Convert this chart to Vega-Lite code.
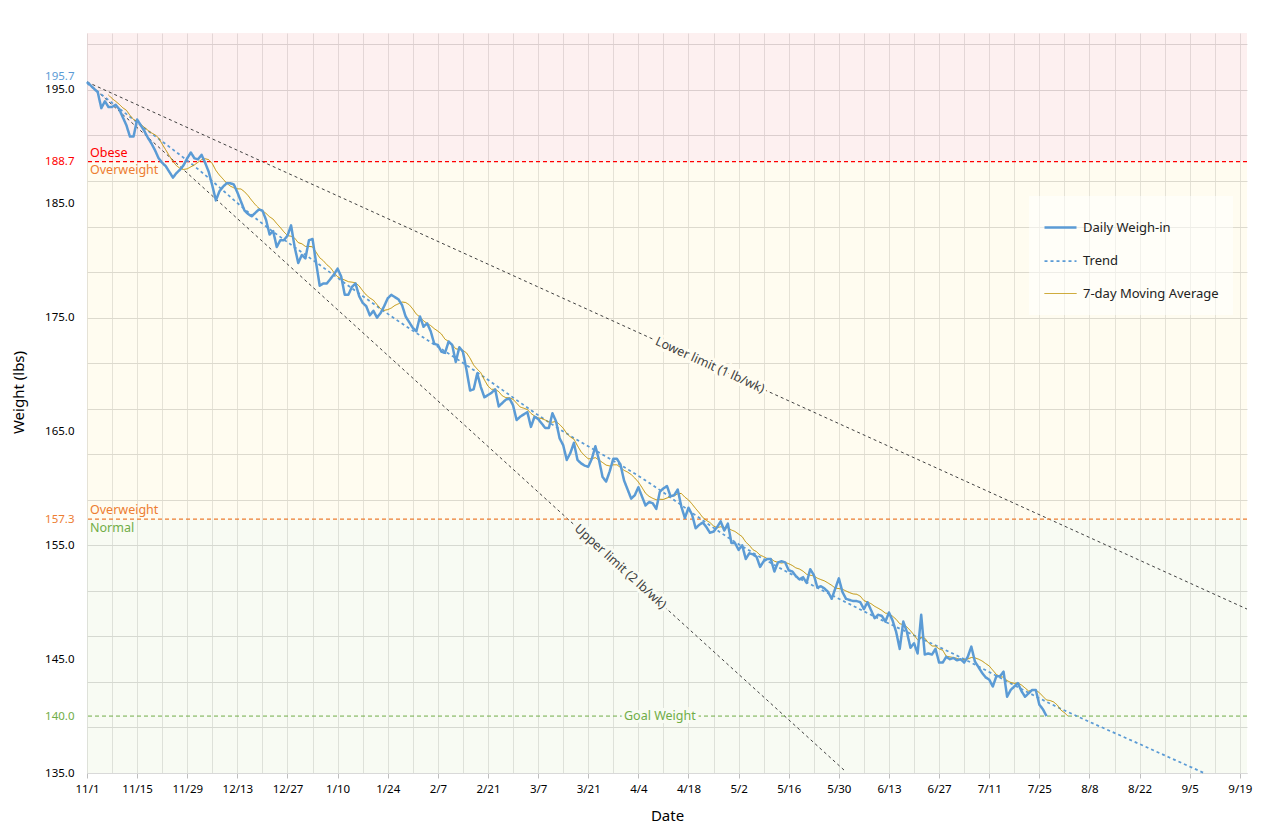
{
  "$schema": "https://vega.github.io/schema/vega-lite/v6.json",
  "description": "Weight loss tracker: daily weigh-ins with trend, 7-day moving average, BMI zones and 1-2 lb/wk limits",
  "width": 1160,
  "height": 740,
  "autosize": {"type": "none"},
  "padding": {"left": 87, "top": 33, "right": 23, "bottom": 64},
  "background": "#ffffff",
  "datasets": {
    "zones": [
      {"zone": "Obese", "lo": 188.7, "hi": 200},
      {"zone": "Overweight", "lo": 157.3, "hi": 188.7},
      {"zone": "Normal", "lo": 135, "hi": 157.3}
    ],
    "limits": [
      {"limit": "Lower limit (1 lb/wk)", "date": "2022-11-01", "weight": 195.7},
      {"limit": "Lower limit (1 lb/wk)", "date": "2023-09-21", "weight": 149.4},
      {"limit": "Upper limit (2 lb/wk)", "date": "2022-11-01", "weight": 195.7},
      {"limit": "Upper limit (2 lb/wk)", "date": "2023-06-01", "weight": 135.1}
    ],
    "trend": [
      {"date": "2022-11-01", "weight": 195.6},
      {"date": "2022-11-16", "weight": 191.9},
      {"date": "2022-12-01", "weight": 188.3},
      {"date": "2022-12-19", "weight": 183.5},
      {"date": "2023-01-06", "weight": 179.4},
      {"date": "2023-01-26", "weight": 174.9},
      {"date": "2023-02-17", "weight": 170.4},
      {"date": "2023-03-11", "weight": 165.6},
      {"date": "2023-04-05", "weight": 160.9},
      {"date": "2023-05-01", "weight": 155.3},
      {"date": "2023-06-06", "weight": 149.2},
      {"date": "2023-07-04", "weight": 145.0},
      {"date": "2023-07-28", "weight": 141.1},
      {"date": "2023-08-23", "weight": 137.4},
      {"date": "2023-09-09", "weight": 135.0}
    ],
    "daily": [
      {"date": "2022-11-01", "weight": 195.7}, {"date": "2022-11-02", "weight": 195.4}, {"date": "2022-11-03", "weight": 195.1},
      {"date": "2022-11-04", "weight": 194.8}, {"date": "2022-11-05", "weight": 193.4}, {"date": "2022-11-06", "weight": 194.0},
      {"date": "2022-11-07", "weight": 193.5}, {"date": "2022-11-08", "weight": 193.5}, {"date": "2022-11-09", "weight": 193.7},
      {"date": "2022-11-10", "weight": 193.3}, {"date": "2022-11-11", "weight": 192.6}, {"date": "2022-11-12", "weight": 191.9},
      {"date": "2022-11-13", "weight": 190.9}, {"date": "2022-11-14", "weight": 190.9}, {"date": "2022-11-15", "weight": 192.4},
      {"date": "2022-11-16", "weight": 191.9}, {"date": "2022-11-17", "weight": 191.4}, {"date": "2022-11-18", "weight": 190.8},
      {"date": "2022-11-19", "weight": 190.3}, {"date": "2022-11-20", "weight": 189.7}, {"date": "2022-11-21", "weight": 189.0},
      {"date": "2022-11-22", "weight": 188.6}, {"date": "2022-11-23", "weight": 188.3}, {"date": "2022-11-24", "weight": 187.8},
      {"date": "2022-11-25", "weight": 187.3}, {"date": "2022-11-26", "weight": 187.7}, {"date": "2022-11-27", "weight": 188.0},
      {"date": "2022-11-28", "weight": 188.4}, {"date": "2022-11-29", "weight": 189.0}, {"date": "2022-11-30", "weight": 189.5},
      {"date": "2022-12-01", "weight": 189.0}, {"date": "2022-12-02", "weight": 188.9}, {"date": "2022-12-03", "weight": 189.3},
      {"date": "2022-12-04", "weight": 188.6}, {"date": "2022-12-05", "weight": 187.8}, {"date": "2022-12-06", "weight": 186.6},
      {"date": "2022-12-07", "weight": 185.3}, {"date": "2022-12-08", "weight": 186.1}, {"date": "2022-12-09", "weight": 186.5},
      {"date": "2022-12-10", "weight": 186.8}, {"date": "2022-12-11", "weight": 186.8}, {"date": "2022-12-12", "weight": 186.7},
      {"date": "2022-12-13", "weight": 186.0}, {"date": "2022-12-14", "weight": 185.2}, {"date": "2022-12-15", "weight": 184.4},
      {"date": "2022-12-16", "weight": 184.1}, {"date": "2022-12-17", "weight": 183.9}, {"date": "2022-12-18", "weight": 184.2},
      {"date": "2022-12-19", "weight": 184.5}, {"date": "2022-12-20", "weight": 184.4}, {"date": "2022-12-21", "weight": 183.6},
      {"date": "2022-12-22", "weight": 182.3}, {"date": "2022-12-23", "weight": 182.6}, {"date": "2022-12-24", "weight": 181.2},
      {"date": "2022-12-25", "weight": 181.8}, {"date": "2022-12-26", "weight": 181.8}, {"date": "2022-12-27", "weight": 182.2},
      {"date": "2022-12-28", "weight": 183.1}, {"date": "2022-12-29", "weight": 181.2}, {"date": "2022-12-30", "weight": 179.8},
      {"date": "2022-12-31", "weight": 180.5},
      {"date": "2023-01-01", "weight": 180.2}, {"date": "2023-01-02", "weight": 181.8}, {"date": "2023-01-03", "weight": 181.9},
      {"date": "2023-01-04", "weight": 179.8}, {"date": "2023-01-05", "weight": 177.8}, {"date": "2023-01-06", "weight": 178.0},
      {"date": "2023-01-07", "weight": 178.0}, {"date": "2023-01-08", "weight": 178.4}, {"date": "2023-01-09", "weight": 178.8},
      {"date": "2023-01-10", "weight": 179.3}, {"date": "2023-01-11", "weight": 178.6}, {"date": "2023-01-12", "weight": 177.0},
      {"date": "2023-01-13", "weight": 177.0}, {"date": "2023-01-14", "weight": 177.7}, {"date": "2023-01-15", "weight": 178.0},
      {"date": "2023-01-16", "weight": 176.9}, {"date": "2023-01-17", "weight": 176.3}, {"date": "2023-01-18", "weight": 176.0},
      {"date": "2023-01-19", "weight": 175.2}, {"date": "2023-01-20", "weight": 175.6}, {"date": "2023-01-21", "weight": 175.0},
      {"date": "2023-01-22", "weight": 175.4}, {"date": "2023-01-23", "weight": 176.0}, {"date": "2023-01-24", "weight": 176.7},
      {"date": "2023-01-25", "weight": 177.0}, {"date": "2023-01-26", "weight": 176.8}, {"date": "2023-01-27", "weight": 176.6},
      {"date": "2023-01-28", "weight": 176.1}, {"date": "2023-01-29", "weight": 175.1}, {"date": "2023-01-30", "weight": 174.6},
      {"date": "2023-01-31", "weight": 174.1},
      {"date": "2023-02-01", "weight": 173.8}, {"date": "2023-02-02", "weight": 175.1}, {"date": "2023-02-03", "weight": 174.2},
      {"date": "2023-02-04", "weight": 174.5}, {"date": "2023-02-05", "weight": 173.8}, {"date": "2023-02-06", "weight": 172.7},
      {"date": "2023-02-07", "weight": 172.6}, {"date": "2023-02-08", "weight": 172.0}, {"date": "2023-02-09", "weight": 171.9},
      {"date": "2023-02-10", "weight": 172.9}, {"date": "2023-02-11", "weight": 172.6}, {"date": "2023-02-12", "weight": 171.1},
      {"date": "2023-02-13", "weight": 172.4}, {"date": "2023-02-14", "weight": 172.0}, {"date": "2023-02-15", "weight": 170.4},
      {"date": "2023-02-16", "weight": 168.6}, {"date": "2023-02-17", "weight": 168.7}, {"date": "2023-02-18", "weight": 170.1},
      {"date": "2023-02-19", "weight": 168.9}, {"date": "2023-02-20", "weight": 168.0}, {"date": "2023-02-21", "weight": 168.2},
      {"date": "2023-02-22", "weight": 168.4}, {"date": "2023-02-23", "weight": 168.7}, {"date": "2023-02-24", "weight": 167.2},
      {"date": "2023-02-25", "weight": 167.5}, {"date": "2023-02-26", "weight": 167.8}, {"date": "2023-02-27", "weight": 167.9},
      {"date": "2023-02-28", "weight": 167.3},
      {"date": "2023-03-01", "weight": 166.0}, {"date": "2023-03-02", "weight": 166.3}, {"date": "2023-03-03", "weight": 166.5},
      {"date": "2023-03-04", "weight": 166.7}, {"date": "2023-03-05", "weight": 165.4}, {"date": "2023-03-06", "weight": 166.3},
      {"date": "2023-03-07", "weight": 166.1}, {"date": "2023-03-08", "weight": 165.7}, {"date": "2023-03-09", "weight": 165.3},
      {"date": "2023-03-10", "weight": 165.3}, {"date": "2023-03-11", "weight": 166.6}, {"date": "2023-03-12", "weight": 165.9},
      {"date": "2023-03-13", "weight": 164.4}, {"date": "2023-03-14", "weight": 163.8}, {"date": "2023-03-15", "weight": 162.5},
      {"date": "2023-03-16", "weight": 163.1}, {"date": "2023-03-17", "weight": 164.0}, {"date": "2023-03-18", "weight": 162.5},
      {"date": "2023-03-19", "weight": 162.2}, {"date": "2023-03-20", "weight": 162.0}, {"date": "2023-03-21", "weight": 161.9},
      {"date": "2023-03-22", "weight": 162.6}, {"date": "2023-03-23", "weight": 163.7}, {"date": "2023-03-24", "weight": 162.5},
      {"date": "2023-03-25", "weight": 161.0}, {"date": "2023-03-26", "weight": 160.6}, {"date": "2023-03-27", "weight": 161.5},
      {"date": "2023-03-28", "weight": 162.6}, {"date": "2023-03-29", "weight": 162.6}, {"date": "2023-03-30", "weight": 162.1},
      {"date": "2023-03-31", "weight": 160.7},
      {"date": "2023-04-01", "weight": 159.9}, {"date": "2023-04-02", "weight": 159.1}, {"date": "2023-04-03", "weight": 159.4},
      {"date": "2023-04-04", "weight": 160.1}, {"date": "2023-04-05", "weight": 159.3}, {"date": "2023-04-06", "weight": 158.5},
      {"date": "2023-04-07", "weight": 158.8}, {"date": "2023-04-08", "weight": 158.7}, {"date": "2023-04-09", "weight": 158.2},
      {"date": "2023-04-10", "weight": 159.7}, {"date": "2023-04-11", "weight": 160.0}, {"date": "2023-04-12", "weight": 160.2},
      {"date": "2023-04-13", "weight": 159.3}, {"date": "2023-04-14", "weight": 159.4}, {"date": "2023-04-15", "weight": 159.9},
      {"date": "2023-04-16", "weight": 158.4}, {"date": "2023-04-17", "weight": 157.4}, {"date": "2023-04-18", "weight": 158.3},
      {"date": "2023-04-19", "weight": 157.7}, {"date": "2023-04-20", "weight": 156.5}, {"date": "2023-04-21", "weight": 156.8},
      {"date": "2023-04-22", "weight": 157.0}, {"date": "2023-04-23", "weight": 156.6}, {"date": "2023-04-24", "weight": 156.1},
      {"date": "2023-04-25", "weight": 156.2}, {"date": "2023-04-26", "weight": 156.6}, {"date": "2023-04-27", "weight": 157.1},
      {"date": "2023-04-28", "weight": 156.3}, {"date": "2023-04-29", "weight": 156.9}, {"date": "2023-04-30", "weight": 155.2},
      {"date": "2023-05-01", "weight": 155.2}, {"date": "2023-05-02", "weight": 154.6}, {"date": "2023-05-03", "weight": 155.0},
      {"date": "2023-05-04", "weight": 153.8}, {"date": "2023-05-05", "weight": 154.3}, {"date": "2023-05-06", "weight": 154.2},
      {"date": "2023-05-07", "weight": 154.0}, {"date": "2023-05-08", "weight": 153.1}, {"date": "2023-05-09", "weight": 153.6},
      {"date": "2023-05-10", "weight": 153.8}, {"date": "2023-05-11", "weight": 153.8}, {"date": "2023-05-12", "weight": 152.7},
      {"date": "2023-05-13", "weight": 153.5}, {"date": "2023-05-14", "weight": 153.6}, {"date": "2023-05-15", "weight": 153.5},
      {"date": "2023-05-16", "weight": 152.8}, {"date": "2023-05-17", "weight": 152.7}, {"date": "2023-05-18", "weight": 152.3},
      {"date": "2023-05-19", "weight": 152.0}, {"date": "2023-05-20", "weight": 152.2}, {"date": "2023-05-21", "weight": 151.7},
      {"date": "2023-05-22", "weight": 152.9}, {"date": "2023-05-23", "weight": 152.4}, {"date": "2023-05-24", "weight": 151.3},
      {"date": "2023-05-25", "weight": 151.4}, {"date": "2023-05-26", "weight": 151.2}, {"date": "2023-05-27", "weight": 150.9},
      {"date": "2023-05-28", "weight": 150.3}, {"date": "2023-05-29", "weight": 151.2}, {"date": "2023-05-30", "weight": 152.1},
      {"date": "2023-05-31", "weight": 150.9},
      {"date": "2023-06-01", "weight": 150.3}, {"date": "2023-06-02", "weight": 150.2}, {"date": "2023-06-03", "weight": 150.1},
      {"date": "2023-06-04", "weight": 150.1}, {"date": "2023-06-05", "weight": 150.0}, {"date": "2023-06-06", "weight": 149.4},
      {"date": "2023-06-07", "weight": 150.0}, {"date": "2023-06-08", "weight": 149.3}, {"date": "2023-06-09", "weight": 148.6},
      {"date": "2023-06-10", "weight": 148.9}, {"date": "2023-06-11", "weight": 148.8}, {"date": "2023-06-12", "weight": 148.3},
      {"date": "2023-06-13", "weight": 149.1}, {"date": "2023-06-14", "weight": 148.4}, {"date": "2023-06-15", "weight": 147.4},
      {"date": "2023-06-16", "weight": 145.9}, {"date": "2023-06-17", "weight": 148.3}, {"date": "2023-06-18", "weight": 147.4},
      {"date": "2023-06-19", "weight": 146.0}, {"date": "2023-06-20", "weight": 146.4}, {"date": "2023-06-21", "weight": 145.5},
      {"date": "2023-06-22", "weight": 148.9}, {"date": "2023-06-23", "weight": 145.4}, {"date": "2023-06-24", "weight": 145.5},
      {"date": "2023-06-25", "weight": 145.4}, {"date": "2023-06-26", "weight": 145.9}, {"date": "2023-06-27", "weight": 144.7},
      {"date": "2023-06-28", "weight": 144.7}, {"date": "2023-06-29", "weight": 145.2}, {"date": "2023-06-30", "weight": 145.0},
      {"date": "2023-07-01", "weight": 145.1}, {"date": "2023-07-02", "weight": 144.9}, {"date": "2023-07-03", "weight": 145.0},
      {"date": "2023-07-04", "weight": 144.7}, {"date": "2023-07-05", "weight": 145.2}, {"date": "2023-07-06", "weight": 146.1},
      {"date": "2023-07-07", "weight": 144.8}, {"date": "2023-07-08", "weight": 144.3}, {"date": "2023-07-09", "weight": 143.8},
      {"date": "2023-07-10", "weight": 143.4}, {"date": "2023-07-11", "weight": 143.2}, {"date": "2023-07-12", "weight": 142.6},
      {"date": "2023-07-13", "weight": 143.5}, {"date": "2023-07-14", "weight": 143.5}, {"date": "2023-07-15", "weight": 143.9},
      {"date": "2023-07-16", "weight": 141.7}, {"date": "2023-07-17", "weight": 142.3}, {"date": "2023-07-18", "weight": 142.6},
      {"date": "2023-07-19", "weight": 142.9}, {"date": "2023-07-20", "weight": 142.2}, {"date": "2023-07-21", "weight": 141.7},
      {"date": "2023-07-22", "weight": 142.0}, {"date": "2023-07-23", "weight": 142.3}, {"date": "2023-07-24", "weight": 142.3},
      {"date": "2023-07-25", "weight": 141.0}, {"date": "2023-07-26", "weight": 140.6}, {"date": "2023-07-27", "weight": 140.0},
      {"date": "2023-07-28", "weight": null}, {"date": "2023-07-29", "weight": null}, {"date": "2023-07-30", "weight": null},
      {"date": "2023-07-31", "weight": null}, {"date": "2023-08-01", "weight": null}, {"date": "2023-08-02", "weight": null}
    ]
  },
  "resolve": {"axis": {"x": "independent", "y": "independent"}},
  "layer": [
    {
      "layer": [
        {
          "data": {"name": "zones"},
          "mark": {"type": "rect", "fillOpacity": 0.12},
          "encoding": {
            "y": {
              "field": "lo",
              "type": "quantitative",
              "scale": {"domain": [135, 200]},
              "axis": {
                "orient": "left",
                "values": [135, 136, 137, 138, 139, 140, 141, 142, 143, 144, 145, 146, 147, 148, 149, 150, 151, 152, 153, 154, 155, 156, 157, 158, 159, 160, 161, 162, 163, 164, 165, 166, 167, 168, 169, 170, 171, 172, 173, 174, 175, 176, 177, 178, 179, 180, 181, 182, 183, 184, 185, 186, 187, 188, 189, 190, 191, 192, 193, 194, 195, 196, 197, 198, 199, 200],
                "labels": false,
                "ticks": false,
                "domain": false,
                "title": null,
                "gridColor": "#d9d9d9"
              }
            },
            "y2": {"field": "hi"},
            "fill": {
              "field": "zone",
              "type": "nominal",
              "scale": {"domain": ["Obese", "Overweight", "Normal"], "range": ["#ee8282", "#ffe682", "#c5de9b"]},
              "legend": null
            }
          }
        },
        {
          "data": {"name": "limits"},
          "mark": {"type": "line", "color": "#404040", "strokeWidth": 1, "strokeDash": [3, 3]},
          "encoding": {
            "x": {
              "field": "date",
              "type": "temporal",
              "scale": {"type": "utc", "domain": [{"year": 2022, "month": 11, "date": 1, "utc": true}, {"year": 2023, "month": 9, "date": 21, "utc": true}]},
              "axis": {
                "orient": "bottom",
                "values": [
                  {"year": 2022, "month": 11, "date": 1, "utc": true}, {"year": 2022, "month": 11, "date": 8, "utc": true},
                  {"year": 2022, "month": 11, "date": 15, "utc": true}, {"year": 2022, "month": 11, "date": 22, "utc": true},
                  {"year": 2022, "month": 11, "date": 29, "utc": true}, {"year": 2022, "month": 12, "date": 6, "utc": true},
                  {"year": 2022, "month": 12, "date": 13, "utc": true}, {"year": 2022, "month": 12, "date": 20, "utc": true},
                  {"year": 2022, "month": 12, "date": 27, "utc": true}, {"year": 2023, "month": 1, "date": 3, "utc": true},
                  {"year": 2023, "month": 1, "date": 10, "utc": true}, {"year": 2023, "month": 1, "date": 17, "utc": true},
                  {"year": 2023, "month": 1, "date": 24, "utc": true}, {"year": 2023, "month": 1, "date": 31, "utc": true},
                  {"year": 2023, "month": 2, "date": 7, "utc": true}, {"year": 2023, "month": 2, "date": 14, "utc": true},
                  {"year": 2023, "month": 2, "date": 21, "utc": true}, {"year": 2023, "month": 2, "date": 28, "utc": true},
                  {"year": 2023, "month": 3, "date": 7, "utc": true}, {"year": 2023, "month": 3, "date": 14, "utc": true},
                  {"year": 2023, "month": 3, "date": 21, "utc": true}, {"year": 2023, "month": 3, "date": 28, "utc": true},
                  {"year": 2023, "month": 4, "date": 4, "utc": true}, {"year": 2023, "month": 4, "date": 11, "utc": true},
                  {"year": 2023, "month": 4, "date": 18, "utc": true}, {"year": 2023, "month": 4, "date": 25, "utc": true},
                  {"year": 2023, "month": 5, "date": 2, "utc": true}, {"year": 2023, "month": 5, "date": 9, "utc": true},
                  {"year": 2023, "month": 5, "date": 16, "utc": true}, {"year": 2023, "month": 5, "date": 23, "utc": true},
                  {"year": 2023, "month": 5, "date": 30, "utc": true}, {"year": 2023, "month": 6, "date": 6, "utc": true},
                  {"year": 2023, "month": 6, "date": 13, "utc": true}, {"year": 2023, "month": 6, "date": 20, "utc": true},
                  {"year": 2023, "month": 6, "date": 27, "utc": true}, {"year": 2023, "month": 7, "date": 4, "utc": true},
                  {"year": 2023, "month": 7, "date": 11, "utc": true}, {"year": 2023, "month": 7, "date": 18, "utc": true},
                  {"year": 2023, "month": 7, "date": 25, "utc": true}, {"year": 2023, "month": 8, "date": 1, "utc": true},
                  {"year": 2023, "month": 8, "date": 8, "utc": true}, {"year": 2023, "month": 8, "date": 15, "utc": true},
                  {"year": 2023, "month": 8, "date": 22, "utc": true}, {"year": 2023, "month": 8, "date": 29, "utc": true},
                  {"year": 2023, "month": 9, "date": 5, "utc": true}, {"year": 2023, "month": 9, "date": 12, "utc": true},
                  {"year": 2023, "month": 9, "date": 19, "utc": true}
                ],
                "labels": false,
                "ticks": false,
                "domain": false,
                "title": null,
                "gridColor": "#e2e2e2"
              }
            },
            "y": {"field": "weight", "type": "quantitative"},
            "detail": {"field": "limit", "type": "nominal"}
          }
        }
      ]
    },
    {
      "layer": [
        {
          "data": {"values": [{}]},
          "mark": {"type": "rule", "color": "#ff0000", "strokeWidth": 1.3, "strokeDash": [4, 3]},
          "encoding": {"y": {"datum": 188.7, "type": "quantitative"}}
        },
        {
          "data": {"values": [{}]},
          "mark": {"type": "rule", "color": "#ed7d31", "strokeWidth": 1.3, "strokeDash": [4, 3]},
          "encoding": {"y": {"datum": 157.3, "type": "quantitative"}}
        },
        {
          "data": {"values": [{}]},
          "mark": {"type": "rule", "color": "#70ad47", "strokeWidth": 1, "strokeDash": [4, 3]},
          "encoding": {"y": {"datum": 140, "type": "quantitative"}}
        },
        {
          "data": {"name": "trend"},
          "mark": {"type": "line", "interpolate": "monotone"},
          "encoding": {
            "x": {"field": "date", "type": "temporal", "title": "Date"},
            "y": {"field": "weight", "type": "quantitative", "title": "Weight (lbs)"},
            "color": {"datum": "Trend"},
            "strokeDash": {"datum": "Trend"},
            "strokeWidth": {"datum": "Trend"}
          }
        },
        {
          "data": {"name": "daily"},
          "transform": [
            {"window": [{"op": "mean", "field": "weight", "as": "ma"}, {"op": "row_number", "as": "rn"}], "frame": [-6, 0], "sort": [{"field": "date", "order": "ascending"}]},
            {"filter": "datum.rn >= 7"}
          ],
          "mark": {"type": "line"},
          "encoding": {
            "x": {"field": "date", "type": "temporal", "title": "Date"},
            "y": {"field": "ma", "type": "quantitative", "title": "Weight (lbs)"},
            "color": {"datum": "7-day Moving Average"},
            "strokeDash": {"datum": "7-day Moving Average"},
            "strokeWidth": {"datum": "7-day Moving Average"}
          }
        },
        {
          "data": {"name": "daily"},
          "transform": [{"filter": "isValid(datum.weight)"}],
          "mark": {"type": "line", "strokeJoin": "round"},
          "encoding": {
            "x": {
              "field": "date",
              "type": "temporal",
              "title": "Date",
              "axis": {
                "orient": "bottom",
                "grid": false,
                "values": [
                  {"year": 2022, "month": 11, "date": 1, "utc": true}, {"year": 2022, "month": 11, "date": 15, "utc": true},
                  {"year": 2022, "month": 11, "date": 29, "utc": true}, {"year": 2022, "month": 12, "date": 13, "utc": true},
                  {"year": 2022, "month": 12, "date": 27, "utc": true}, {"year": 2023, "month": 1, "date": 10, "utc": true},
                  {"year": 2023, "month": 1, "date": 24, "utc": true}, {"year": 2023, "month": 2, "date": 7, "utc": true},
                  {"year": 2023, "month": 2, "date": 21, "utc": true}, {"year": 2023, "month": 3, "date": 7, "utc": true},
                  {"year": 2023, "month": 3, "date": 21, "utc": true}, {"year": 2023, "month": 4, "date": 4, "utc": true},
                  {"year": 2023, "month": 4, "date": 18, "utc": true}, {"year": 2023, "month": 5, "date": 2, "utc": true},
                  {"year": 2023, "month": 5, "date": 16, "utc": true}, {"year": 2023, "month": 5, "date": 30, "utc": true},
                  {"year": 2023, "month": 6, "date": 13, "utc": true}, {"year": 2023, "month": 6, "date": 27, "utc": true},
                  {"year": 2023, "month": 7, "date": 11, "utc": true}, {"year": 2023, "month": 7, "date": 25, "utc": true},
                  {"year": 2023, "month": 8, "date": 8, "utc": true}, {"year": 2023, "month": 8, "date": 22, "utc": true},
                  {"year": 2023, "month": 9, "date": 5, "utc": true}, {"year": 2023, "month": 9, "date": 19, "utc": true}
                ],
                "labelExpr": "utcFormat(datum.value, '%-m/%-d')",
                "labelFlush": false,
                "labelOverlap": false,
                "labelPadding": 5,
                "tickSize": 5,
                "titlePadding": 14
              }
            },
            "y": {
              "field": "weight",
              "type": "quantitative",
              "title": "Weight (lbs)",
              "axis": {
                "orient": "left",
                "values": [135, 145, 155, 165, 175, 185, 195, 140, 157.3, 188.7, 195.7],
                "format": ".1f",
                "labelOverlap": false,
                "labelFlush": false,
                "labelPadding": 13,
                "ticks": false,
                "domain": false,
                "labelColor": {
                  "condition": [
                    {"test": "datum.value == 195.7", "value": "#5b9bd5"},
                    {"test": "datum.value == 188.7", "value": "#ff0000"},
                    {"test": "datum.value == 157.3", "value": "#ed7d31"},
                    {"test": "datum.value == 140", "value": "#70ad47"}
                  ],
                  "value": "#000000"
                },
                "labelBaseline": {"condition": {"test": "datum.value == 195.7", "value": "bottom"}, "value": "middle"},
                "gridColor": "#c6c6c6",
                "gridOpacity": {"condition": {"test": "datum.value % 10 == 5", "value": 1}, "value": 0},
                "titleX": -69,
                "titleY": 359,
                "titleAlign": "center",
                "titleBaseline": "middle"
              }
            },
            "color": {
              "datum": "Daily Weigh-in",
              "scale": {"domain": ["Daily Weigh-in", "Trend", "7-day Moving Average"], "range": ["#5b9bd5", "#5b9bd5", "#bf9000"]},
              "legend": {
                "orient": "none",
                "legendX": 942,
                "legendY": 163,
                "title": null,
                "fillColor": "rgba(255,255,255,0.5)",
                "padding": 14,
                "symbolType": "stroke",
                "symbolSize": 1024,
                "rowPadding": 9,
                "labelOffset": 5,
                "labelFontSize": 13,
                "labelFont": "Noto Sans",
                "labelColor": "#222222",
                "labelLimit": 300
              }
            },
            "strokeDash": {
              "datum": "Daily Weigh-in",
              "scale": {"domain": ["Daily Weigh-in", "Trend", "7-day Moving Average"], "range": [[1, 0], [3, 3], [1, 0]]}
            },
            "strokeWidth": {
              "datum": "Daily Weigh-in",
              "scale": {"domain": ["Daily Weigh-in", "Trend", "7-day Moving Average"], "range": [2.5, 1, 1.3]}
            }
          }
        },
        {
          "data": {"values": [{}]},
          "mark": {"type": "text", "text": "Obese", "color": "#ff0000", "fontSize": 12.5, "align": "left", "baseline": "bottom", "dx": 3, "dy": -2},
          "encoding": {
            "x": {"datum": {"year": 2022, "month": 11, "date": 1, "utc": true}, "type": "temporal"},
            "y": {"datum": 188.7, "type": "quantitative"}
          }
        },
        {
          "data": {"values": [{}]},
          "mark": {"type": "text", "text": "Overweight", "color": "#ed7d31", "fontSize": 12.5, "align": "left", "baseline": "top", "dx": 3, "dy": 2},
          "encoding": {
            "x": {"datum": {"year": 2022, "month": 11, "date": 1, "utc": true}, "type": "temporal"},
            "y": {"datum": 188.7, "type": "quantitative"}
          }
        },
        {
          "data": {"values": [{}]},
          "mark": {"type": "text", "text": "Overweight", "color": "#ed7d31", "fontSize": 12.5, "align": "left", "baseline": "bottom", "dx": 3, "dy": -2},
          "encoding": {
            "x": {"datum": {"year": 2022, "month": 11, "date": 1, "utc": true}, "type": "temporal"},
            "y": {"datum": 157.3, "type": "quantitative"}
          }
        },
        {
          "data": {"values": [{}]},
          "mark": {"type": "text", "text": "Normal", "color": "#70ad47", "fontSize": 12.5, "align": "left", "baseline": "top", "dx": 3, "dy": 3},
          "encoding": {
            "x": {"datum": {"year": 2022, "month": 11, "date": 1, "utc": true}, "type": "temporal"},
            "y": {"datum": 157.3, "type": "quantitative"}
          }
        },
        {
          "data": {"values": [{}]},
          "mark": {"type": "text", "text": "Goal Weight", "color": "#f8fbf3", "stroke": "#f8fbf3", "strokeWidth": 6, "fontSize": 12.5, "align": "center", "baseline": "middle"},
          "encoding": {
            "x": {"datum": {"year": 2023, "month": 4, "date": 10, "utc": true}, "type": "temporal"},
            "y": {"datum": 140, "type": "quantitative"}
          }
        },
        {
          "data": {"values": [{}]},
          "mark": {"type": "text", "text": "Goal Weight", "color": "#70ad47", "fontSize": 12.5, "align": "center", "baseline": "middle"},
          "encoding": {
            "x": {"datum": {"year": 2023, "month": 4, "date": 10, "utc": true}, "type": "temporal"},
            "y": {"datum": 140, "type": "quantitative"}
          }
        },
        {
          "data": {"values": [{}]},
          "mark": {"type": "text", "text": "Lower limit (1 lb/wk)", "color": "#fffcf0", "stroke": "#fffcf0", "strokeWidth": 6, "fontSize": 12.5, "angle": 24.4, "align": "center", "baseline": "middle"},
          "encoding": {
            "x": {"datum": {"year": 2023, "month": 4, "date": 24, "utc": true}, "type": "temporal"},
            "y": {"datum": 170.84, "type": "quantitative"}
          }
        },
        {
          "data": {"values": [{}]},
          "mark": {"type": "text", "text": "Lower limit (1 lb/wk)", "color": "#404040", "fontSize": 12.5, "angle": 24.4, "align": "center", "baseline": "middle"},
          "encoding": {
            "x": {"datum": {"year": 2023, "month": 4, "date": 24, "utc": true}, "type": "temporal"},
            "y": {"datum": 170.84, "type": "quantitative"}
          }
        },
        {
          "data": {"values": [{}]},
          "mark": {"type": "text", "text": "Upper limit (2 lb/wk)", "color": "#f9fbf2", "stroke": "#f9fbf2", "strokeWidth": 6, "fontSize": 12.5, "angle": 42.2, "align": "center", "baseline": "middle"},
          "encoding": {
            "x": {"datum": {"year": 2023, "month": 3, "date": 30, "utc": true}, "type": "temporal"},
            "y": {"datum": 153.13, "type": "quantitative"}
          }
        },
        {
          "data": {"values": [{}]},
          "mark": {"type": "text", "text": "Upper limit (2 lb/wk)", "color": "#404040", "fontSize": 12.5, "angle": 42.2, "align": "center", "baseline": "middle"},
          "encoding": {
            "x": {"datum": {"year": 2023, "month": 3, "date": 30, "utc": true}, "type": "temporal"},
            "y": {"datum": 153.13, "type": "quantitative"}
          }
        }
      ]
    }
  ],
  "config": {
    "font": "Noto Sans",
    "view": {"stroke": null},
    "mark": {"font": "Noto Sans"},
    "axis": {
      "labelFont": "Noto Sans",
      "labelFontSize": 11.5,
      "labelColor": "#000000",
      "titleFont": "Noto Sans",
      "titleFontSize": 15,
      "titleFontWeight": "normal",
      "titleColor": "#000000",
      "domainColor": "#d9d9d9",
      "tickColor": "#bfbfbf",
      "gridWidth": 1
    }
  }
}
